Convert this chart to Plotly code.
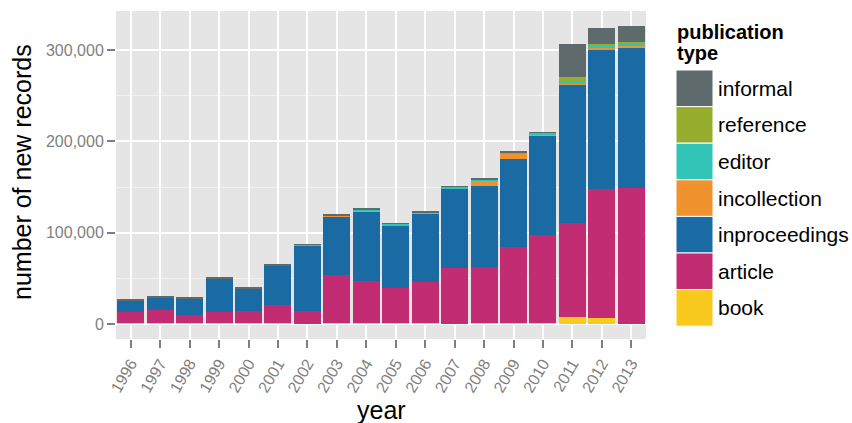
import plotly.graph_objects as go

years = [str(y) for y in range(1996, 2014)]

book = [700, 700, 700, 700, 700, 700, 0, 700, 700, 700, 700, 0, 700, 700, 700, 7700, 6600, 0]
article = [12800, 15000, 9200, 12800, 13500, 20100, 14200, 53000, 46400, 39100, 45700, 61700,
           61700, 83600, 96800, 102900, 141200, 149300]
inproceedings = [11700, 13100, 17800, 36100, 24500, 43100, 71600, 63800, 76600, 68200, 74400,
                 86900, 88700, 96400, 109500, 152200, 152200, 154000]
incollection = [0, 0, 0, 0, 0, 700, 0, 1400, 300, 300, 1100, 300, 5100, 6200, 300, 300, 2200, 1800]
editor = [0, 0, 0, 0, 0, 0, 1000, 300, 1400, 1500, 500, 1500, 2200, 1500, 2200, 2200, 2900, 2900]
reference = [0, 0, 0, 0, 0, 0, 0, 0, 0, 0, 0, 0, 0, 0, 0, 5500, 1500, 1100]
informal = [1100, 1100, 1100, 1100, 1100, 1100, 800, 1200, 700, 800, 1300, 700, 1500, 1000,
            700, 35800, 17500, 17200]

series_names = ["book", "article", "inproceedings", "incollection", "editor", "reference", "informal"]
series_values = [book, article, inproceedings, incollection, editor, reference, informal]
series_colors = ["#F8CA1E", "#C12C72", "#1A6AA3", "#F0932F", "#33C4B8", "#97AD2D", "#5F6A6D"]

y_ticks = [0, 100000, 200000, 300000]

FONT = "Liberation Sans, Arial, Helvetica, sans-serif"

fig = go.Figure()
for name, vals, col in zip(series_names, series_values, series_colors):
    fig.add_trace(go.Bar(x=years, y=vals, name=name, marker=dict(color=col, line=dict(width=0)),
                         showlegend=False))

# plot panel geometry (pixels)
L, R, T, B = 116, 646, 11, 339
W, H = R - L, B - T


def px(xp):
    return (xp - L) / W


def py(yp):
    return (B - yp) / H


fig.update_layout(
    width=852, height=423,
    margin=dict(l=L, r=852 - R, t=T, b=423 - B, autoexpand=False),
    barmode="stack", bargap=0.08,
    plot_bgcolor="#E5E5E5", paper_bgcolor="white",
    font=dict(family=FONT),
    xaxis=dict(
        type="category", showgrid=True, gridcolor="white", gridwidth=2,
        ticks="outside", ticklen=8, tickwidth=2, tickcolor="#7F7F7F",
        tickangle=-60, tickfont=dict(size=16, color="#7F7F7F"),
        showline=False, zeroline=False, automargin=False,
    ),
    yaxis=dict(
        range=[-16500, 343000], tickvals=y_ticks, tickformat=",",
        showgrid=True, gridcolor="white", gridwidth=2,
        minor=dict(dtick=50000, tick0=0, showgrid=True, gridcolor="#F2F2F2", gridwidth=1),
        ticks="outside", ticklen=8, tickwidth=2, tickcolor="#7F7F7F",
        tickfont=dict(size=16, color="#7F7F7F"),
        showline=False, zeroline=False, automargin=False,
    ),
)

annotations = [
    dict(text="number of new records", x=px(22), y=py(172), xref="paper", yref="paper",
         textangle=-90, showarrow=False, font=dict(size=25, color="black"),
         xanchor="center", yanchor="middle"),
    dict(text="year", x=0.5, y=py(410), xref="paper", yref="paper", showarrow=False,
         font=dict(size=25, color="black"), xanchor="center", yanchor="middle"),
    dict(text="<b>publication</b>", x=px(675), y=py(32), xref="paper", yref="paper",
         showarrow=False, align="left", font=dict(size=20, color="black"),
         xanchor="left", yanchor="middle"),
    dict(text="<b>type</b>", x=px(675), y=py(53), xref="paper", yref="paper",
         showarrow=False, align="left", font=dict(size=20, color="black"),
         xanchor="left", yanchor="middle"),
]

shapes = []
row_h = 36.6
top0 = 70
legend_order = list(zip(series_names, series_colors))[::-1]
for i, (name, col) in enumerate(legend_order):
    y0 = top0 + i * row_h
    y1 = y0 + row_h
    shapes.append(dict(type="rect", xref="paper", yref="paper",
                       x0=px(676), x1=px(713), y0=py(y1), y1=py(y0),
                       fillcolor=col, line=dict(color="white", width=1)))
    annotations.append(dict(text=name, x=px(716), y=py((y0 + y1) / 2), xref="paper", yref="paper",
                            showarrow=False, font=dict(size=21, color="black"),
                            xanchor="left", yanchor="middle"))

fig.update_layout(annotations=annotations, shapes=shapes)
fig.write_html("out.html", config={"displayModeBar": False},
               post_script="document.body.style.margin='0';document.body.style.padding='0';")
